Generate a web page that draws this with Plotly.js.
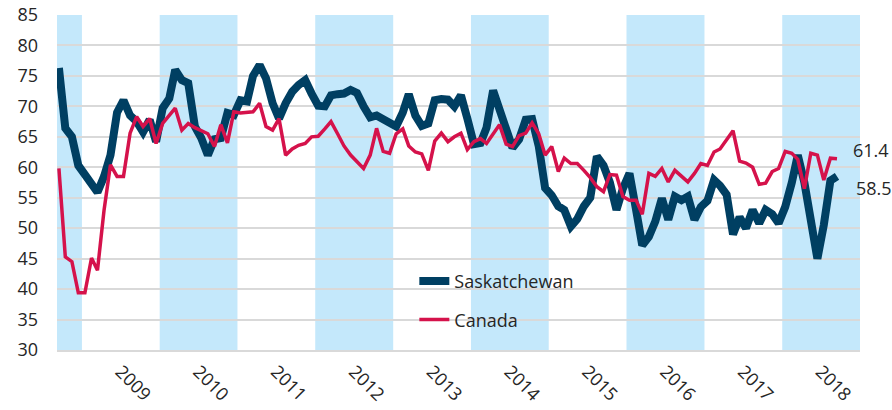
<!DOCTYPE html>
<html>
<head>
<meta charset="utf-8">
<script src="https://cdn.plot.ly/plotly-3.0.1.min.js"></script>
<style>
  html, body { margin: 0; padding: 0; background: #ffffff; }
  #chart { width: 892px; height: 410px; }
</style>
</head>
<body>
<div id="chart"></div>
<script>
// Monthly series, September 2008 to September 2018
const startYear = 2008;
const startMonth = 9;

const saskatchewan = [
  76.3, 66.4, 65.0, 60.3, 58.8, 57.0, 55.9, 58.5, 62.0, 69.0,
  71.0, 68.5, 67.5, 65.8, 67.8, 64.2, 69.7, 71.3, 76.0, 74.3,
  73.8, 66.7, 64.8, 62.0, 64.6, 64.8, 68.9, 68.6, 71.0, 70.8,
  75.0, 76.8, 74.6, 70.5, 68.0, 70.5, 72.4, 73.5, 74.3, 72.1,
  70.1, 70.0, 71.8, 72.0, 72.1, 72.7, 72.2, 70.0, 68.2, 68.5,
  67.8, 67.4, 66.7, 69.0, 72.0, 68.5, 66.8, 67.2, 71.0, 71.2,
  71.1, 70.0, 71.8, 68.0, 63.8, 64.0, 66.5, 72.6, 69.8, 66.0,
  63.2, 64.6, 67.8, 67.9, 63.5, 56.6, 55.4, 53.6, 53.0, 50.3,
  51.5, 53.6, 55.0, 61.8, 60.3, 57.5, 53.0, 56.5, 59.0, 53.0,
  47.2, 48.6, 51.1, 54.9, 51.4, 55.2, 54.6, 55.2, 51.4, 53.5,
  54.5, 57.9, 57.0, 55.5, 49.0, 51.8, 50.0, 53.0, 50.8, 53.0,
  52.3, 50.8, 53.5, 57.5, 62.0, 57.5, 51.0, 45.0, 50.5, 57.8,
  58.5
];

const canada = [
  59.8, 45.3, 44.5, 39.4, 39.4, 45.1, 43.1, 53.0, 60.4, 58.5,
  58.5, 65.6, 68.3, 66.7, 68.0, 63.9, 67.2, 68.5, 69.7, 66.1,
  67.2, 66.5, 66.0, 65.5, 63.4, 67.0, 64.0, 69.1, 68.9, 69.0,
  69.1, 70.5, 66.7, 66.1, 68.0, 62.0, 63.0, 63.6, 63.9, 65.0,
  65.1, 66.3, 67.5, 65.5, 63.5, 62.0, 61.0, 59.8, 62.0, 66.4,
  62.6, 62.3, 65.5, 66.3, 63.5, 62.5, 62.2, 59.5, 64.3, 65.6,
  64.2, 65.0, 65.6, 62.9, 64.2, 64.7, 63.9, 65.5, 67.0, 63.8,
  63.4, 65.2, 65.6, 67.3, 65.5, 62.0, 63.4, 59.3, 61.5, 60.6,
  60.6, 59.5, 58.3, 56.8, 56.0, 58.8, 58.7, 55.2, 54.6, 54.6,
  52.3, 59.0, 58.5, 59.8, 57.6, 59.5, 58.6, 57.6, 59.0, 60.6,
  60.3, 62.5, 63.0, 64.5, 66.0, 61.0, 60.7, 60.0, 57.2, 57.4,
  59.3, 59.8, 62.6, 62.3, 61.3, 56.5, 62.3, 62.0, 57.9, 61.5,
  61.4
];

const tickYears = [2009, 2010, 2011, 2012, 2013, 2014, 2015, 2016, 2017, 2018];
const shadedYears = [2008, 2010, 2012, 2014, 2016, 2018];

const seriesNames = ['Saskatchewan', 'Canada'];
const seriesColors = ['#003f62', '#d5124b'];

// Build month dates (middle of each month)
const pad = n => (n < 10 ? '0' + n : '' + n);
const months = saskatchewan.map((_, i) => {
  const m0 = startMonth - 1 + i;
  const y = startYear + Math.floor(m0 / 12);
  const m = (m0 % 12) + 1;
  return y + '-' + pad(m) + '-15';
});

const fontFamily = '"Open Sans", "Noto Sans", sans-serif';
const textColor = '#262626';

const traces = [
  {
    x: months, y: saskatchewan, type: 'scatter', mode: 'lines',
    name: seriesNames[0], legendgroup: 'a',
    line: { color: seriesColors[0], width: 8, shape: 'linear' },
    hoverinfo: 'skip'
  },
  {
    x: months, y: canada, type: 'scatter', mode: 'lines',
    name: seriesNames[1], legendgroup: 'b',
    line: { color: seriesColors[1], width: 3.5, shape: 'linear' },
    hoverinfo: 'skip'
  }
];

const shapes = shadedYears.map(y => ({
  type: 'rect', xref: 'x', yref: 'paper',
  x0: y + '-01-01', x1: (y + 1) + '-01-01', y0: 0, y1: 1,
  fillcolor: '#c4e8fb', line: { width: 0 }, layer: 'between'
}));

const lastX = months[months.length - 1];
const annotations = [
  {
    x: lastX, y: canada[canada.length - 1], xref: 'x', yref: 'y',
    text: canada[canada.length - 1].toFixed(1), showarrow: false,
    xanchor: 'left', yanchor: 'middle', xshift: 14, yshift: 9,
    font: { family: fontFamily, size: 18, color: textColor }
  },
  {
    x: lastX, y: saskatchewan[saskatchewan.length - 1], xref: 'x', yref: 'y',
    text: saskatchewan[saskatchewan.length - 1].toFixed(1), showarrow: false,
    xanchor: 'left', yanchor: 'middle', xshift: 17, yshift: -12,
    font: { family: fontFamily, size: 18, color: textColor }
  }
];

const layout = {
  width: 892, height: 410,
  margin: { l: 57, r: 32, t: 15, b: 60 },
  paper_bgcolor: '#ffffff', plot_bgcolor: '#ffffff',
  font: { family: fontFamily, size: 18, color: textColor },
  showlegend: true,
  legend: {
    x: 0.445, y: 0.26, xanchor: 'left', yanchor: 'top',
    bgcolor: 'rgba(0,0,0,0)', tracegroupgap: 12,
    font: { family: fontFamily, size: 18, color: textColor }
  },
  xaxis: {
    type: 'date',
    range: ['2008-09-06', '2019-01-01'],
    tickmode: 'array',
    tickvals: tickYears.map(y => y + '-07-01'),
    ticktext: tickYears.map(String),
    tickangle: 45,
    showgrid: false, zeroline: false,
    showline: true, linecolor: '#d9d9d9', linewidth: 2,
    ticks: '', ticklabelstandoff: 2,
    tickfont: { family: fontFamily, size: 18, color: textColor }
  },
  yaxis: {
    range: [30, 85],
    tickmode: 'linear', tick0: 30, dtick: 5,
    showgrid: true, gridcolor: '#d9d9d9', gridwidth: 2,
    zeroline: false, showline: false,
    ticks: '', ticklabelstandoff: 18,
    tickfont: { family: fontFamily, size: 18, color: textColor }
  },
  shapes: shapes,
  annotations: annotations
};

Plotly.newPlot('chart', traces, layout, { staticPlot: true, displayModeBar: false });
</script>
</body>
</html>
